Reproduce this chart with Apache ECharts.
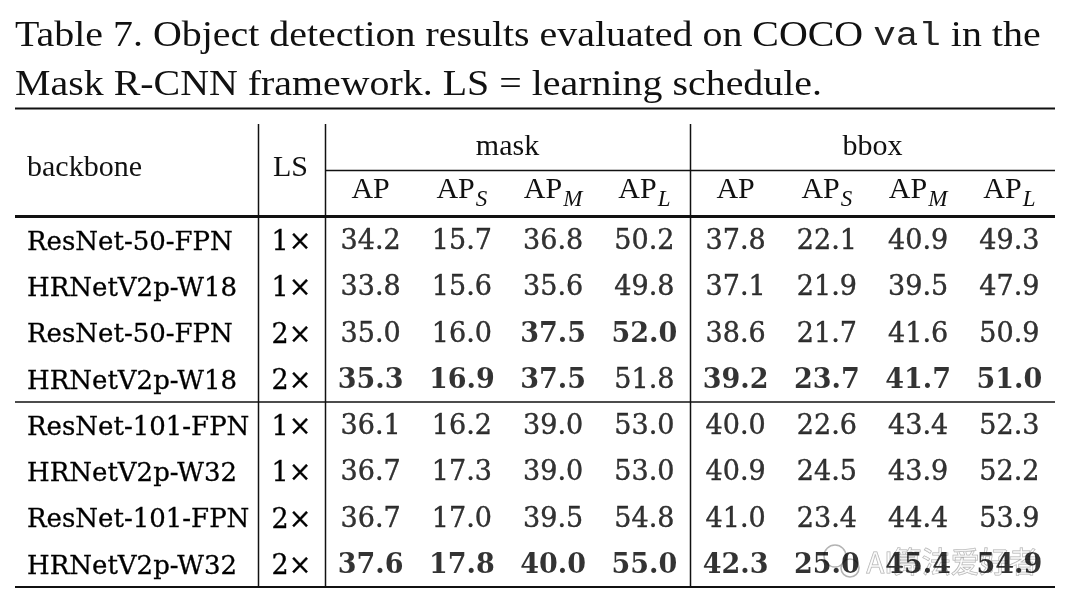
<!DOCTYPE html>
<html>
<head>
<meta charset="utf-8">
<script src="https://cdn.jsdelivr.net/npm/echarts@6/dist/echarts.min.js"></script>
<style>
  html, body { margin: 0; padding: 0; background: #fff; }
  #table7 { width: 1080px; height: 608px; }
</style>
</head>
<body>
<div id="table7"></div>
<script>
// table contents
let backbones = ['ResNet-50-FPN', 'HRNetV2p-W18', 'ResNet-50-FPN', 'HRNetV2p-W18',
                 'ResNet-101-FPN', 'HRNetV2p-W32', 'ResNet-101-FPN', 'HRNetV2p-W32'];
let schedules = ['1×', '1×', '2×', '2×', '1×', '1×', '2×', '2×'];
let metrics = ['AP', 'AP_S', 'AP_M', 'AP_L'];
// one array per column, rows in the order above
let maskAP  = [34.2, 33.8, 35.0, 35.3, 36.1, 36.7, 36.7, 37.6];
let maskAPs = [15.7, 15.6, 16.0, 16.9, 16.2, 17.3, 17.0, 17.8];
let maskAPm = [36.8, 35.6, 37.5, 37.5, 39.0, 39.0, 39.5, 40.0];
let maskAPl = [50.2, 49.8, 52.0, 51.8, 53.0, 53.0, 54.8, 55.0];
let bboxAP  = [37.8, 37.1, 38.6, 39.2, 40.0, 40.9, 41.0, 42.3];
let bboxAPs = [22.1, 21.9, 21.7, 23.7, 22.6, 24.5, 23.4, 25.0];
let bboxAPm = [40.9, 39.5, 41.6, 41.7, 43.4, 43.9, 44.4, 45.4];
let bboxAPl = [49.3, 47.9, 50.9, 51.0, 52.3, 52.2, 53.9, 54.9];
let groupSize = 4; // rule between the W18 and the W32 blocks

let ink = '#111';
let serif = '"Liberation Serif", "Times New Roman", serif';
let cm = '"DejaVu Serif", serif';

let chartDom = document.getElementById('table7');
let myChart = echarts.init(chartDom);

// the best value of each block is bold
function cells(columns) {
    let out = [];
    columns.forEach(function (col, c) {
        col.forEach(function (v, r) {
            let g = Math.floor(r / groupSize);
            let best = Math.max.apply(null, col.slice(g * groupSize, (g + 1) * groupSize));
            out.push([c, r, v, v === best ? 1 : 0]);
        });
    });
    return out;
}

function metricLabel(name) {
    let parts = name.split('_');
    return parts.length > 1 ? '{a|' + parts[0] + '}{s|' + parts[1] + '}' : '{a|' + parts[0] + '}';
}

let metricRich = {
    a: { fontFamily: serif, fontSize: 30, lineHeight: 30, color: ink, verticalAlign: 'top' },
    s: { fontFamily: serif, fontSize: 23, fontStyle: 'italic', lineHeight: 23, color: ink,
         verticalAlign: 'top', padding: [13, 0, 0, 1] }
};

let numRich = {
    n: { fontFamily: cm, fontSize: 27, color: '#000', textBorderColor: '#000', textBorderWidth: 0.4 },
    b: { fontFamily: cm, fontSize: 27, fontWeight: 'bold', color: '#000' }
};

let rowIdx = backbones.map(function (d, i) { return i; });
let gridTop = 217;
let gridH = 370;
let labelDrop = 3; // row names sit a touch lower than the cell centres

function metricAxis(gridIndex, name) {
    return {
        type: 'category', gridIndex: gridIndex, data: metrics, position: 'top',
        axisLine: { show: false }, axisTick: { show: false }, splitLine: { show: false },
        axisLabel: { formatter: metricLabel, rich: metricRich, margin: 42, verticalAlign: 'top' },
        name: name, nameLocation: 'middle', nameGap: 70,
        nameTextStyle: { fontFamily: serif, fontSize: 30, color: ink, verticalAlign: 'middle' }
    };
}

function valueSeries(idx, columns) {
    return {
        type: 'scatter', xAxisIndex: idx, yAxisIndex: idx, symbolSize: 0, silent: true,
        data: cells(columns),
        label: {
            show: true, position: 'inside', offset: [0, 2],
            formatter: function (p) {
                let t = p.value[2].toFixed(1);
                return p.value[3] ? '{b|' + t + '}' : '{n|' + t + '}';
            },
            rich: numRich
        }
    };
}

let line = function (x1, y1, x2, y2, w) {
    return { type: 'line', shape: { x1: x1, y1: y1, x2: x2, y2: y2 },
             style: { stroke: ink, lineWidth: w }, silent: true };
};

let rowLabel = { fontFamily: cm, color: '#000', textBorderColor: '#000', textBorderWidth: 0.3 };

let option = {
    backgroundColor: '#fff',
    animation: false,
    grid: [
        { left: 15, top: gridTop + labelDrop, width: 243, height: gridH },
        { left: 258, top: gridTop + labelDrop, width: 67, height: gridH },
        { left: 325, top: gridTop, width: 365, height: gridH },
        { left: 690, top: gridTop, width: 365, height: gridH }
    ],
    xAxis: [
        { type: 'category', gridIndex: 0, data: [''], show: false },
        { type: 'category', gridIndex: 1, data: [''], show: false },
        metricAxis(2, 'mask'),
        metricAxis(3, 'bbox')
    ],
    yAxis: [
        { type: 'category', gridIndex: 0, data: backbones, inverse: true,
          axisLine: { show: false }, axisTick: { show: false },
          axisLabel: Object.assign({ align: 'left', margin: -12, fontSize: 26 }, rowLabel) },
        { type: 'category', gridIndex: 1, data: schedules, inverse: true,
          axisLine: { show: false }, axisTick: { show: false },
          axisLabel: Object.assign({ align: 'center', margin: -33.5, fontSize: 27 }, rowLabel) },
        { type: 'category', gridIndex: 2, data: rowIdx, inverse: true, show: false },
        { type: 'category', gridIndex: 3, data: rowIdx, inverse: true, show: false }
    ],
    series: [
        valueSeries(2, [maskAP, maskAPs, maskAPm, maskAPl]),
        valueSeries(3, [bboxAP, bboxAPs, bboxAPm, bboxAPl])
    ],
    graphic: [
        // caption, Times set a little wider than Liberation Serif
        { type: 'text', x: 15, y: 12, scaleX: 1.14, silent: true,
          style: {
              text: 'Table 7. Object detection results evaluated on COCO {m|val} in the\nMask R-CNN framework. LS = learning schedule.',
              fontFamily: serif, fontSize: 35, fill: ink, lineHeight: 49,
              rich: {
                  m: { fontFamily: '"Liberation Mono", "DejaVu Sans Mono", monospace', fontSize: 33,
                       fill: '#222', lineHeight: 49 }
              }
          } },
        line(15, 108.5, 1055, 108.5, 2),
        line(325, 170.5, 1055, 170.5, 1.5),
        line(15, 216.5, 1055, 216.5, 3),
        line(15, 402, 1055, 402, 1.5),
        line(15, 587, 1055, 587, 2),
        line(258.5, 124, 258.5, 587, 1.5),
        line(325.5, 124, 325.5, 587, 1.5),
        line(690.5, 124, 690.5, 587, 1.5),
        { type: 'text', left: 27, top: 153, silent: true,
          style: { text: 'backbone', fontFamily: serif, fontSize: 30, fill: ink } },
        { type: 'text', left: 273, top: 153, silent: true,
          style: { text: 'LS', fontFamily: serif, fontSize: 30, fill: ink } },
        // watermark over the last row
        { type: 'circle', shape: { cx: 835, cy: 556, r: 11 }, silent: true,
          style: { fill: 'rgba(255,255,255,0.5)', stroke: 'rgba(160,160,160,0.8)', lineWidth: 1.5 } },
        { type: 'circle', shape: { cx: 850, cy: 568, r: 9 }, silent: true,
          style: { fill: 'rgba(255,255,255,0.5)', stroke: 'rgba(160,160,160,0.8)', lineWidth: 1.5 } },
        { type: 'text', left: 866, top: 547, silent: true,
          style: { text: 'AI算法爱好者', fontFamily: '"Noto Sans CJK SC", sans-serif', fontSize: 29,
                   fill: 'rgba(255,255,255,0.6)', stroke: 'rgba(150,150,150,0.8)', lineWidth: 1 } }
    ]
};

option && myChart.setOption(option);
</script>
</body>
</html>
